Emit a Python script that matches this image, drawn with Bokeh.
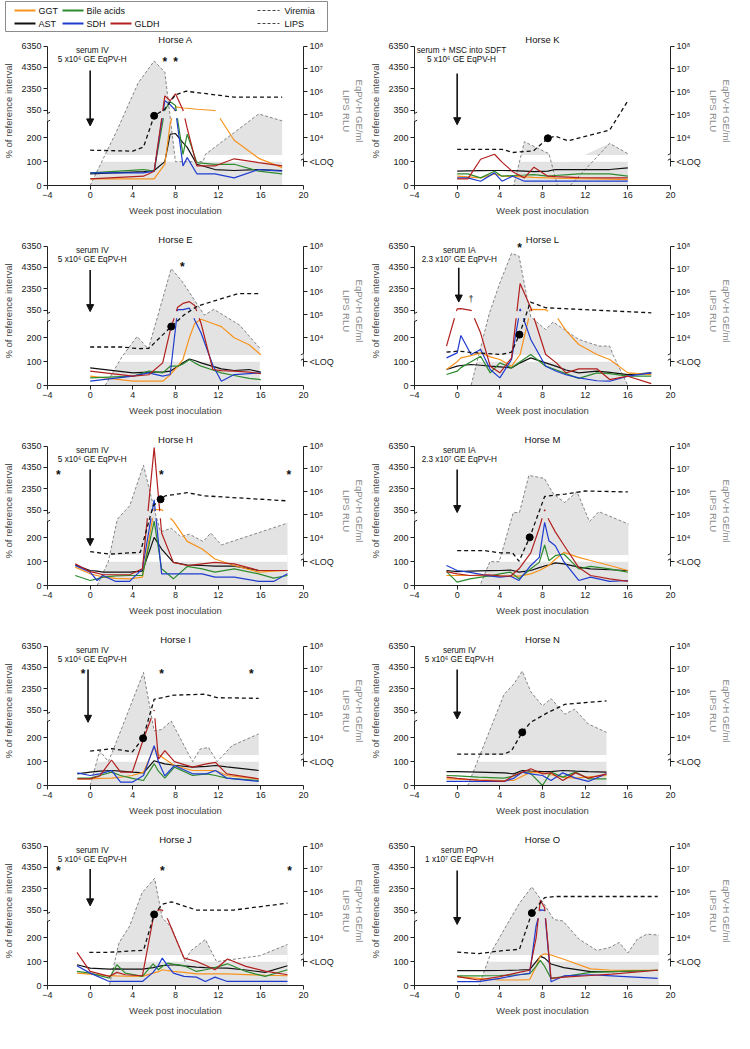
from math import nan
from bokeh.plotting import figure
from bokeh.models import FixedTicker, LinearAxis, Range1d, Arrow, NormalHead
from bokeh.layouts import column, row
from bokeh.embed import file_html
from bokeh.resources import INLINE
from bokeh.core.properties import value

FONT = "Liberation Sans"
C_GGT, C_BILE, C_AST, C_SDH, C_GLDH = "#f7931e", "#2e8b2e", "#111111", "#1f3ccf", "#b1201f"

# ---------------- data (enzymes: % of reference interval; viremia: log10 GE/ml; LIPS: log10 RLU) ----
A_WK = [0, 5, 6, 7, 7.5, 8, 8.7, 9.1, 10, 11.7, 13.5, 15.8, 18]
A_GGT = [28, 28, 28, 90, 260, 683, 572, 550, 460, 340, 190, 114, 75]
A_BILE = [53, 67, 60, 400, 1150, 800, 130, 215, 96, 89, 89, 60, 49]
A_AST = [49, 58, 63, 100, 215, 218, 180, 160, 89, 67, 63, 67, 63]
A_SDH = [53, 53, 60, 1260, 880, 360, 82, 117, 49, 49, 32, 67, 60]
A_GLDH = [28, 39, 60, 1700, 1250, 1900, 380, 240, 82, 82, 112, 96, 82]
A_VWK = [0, 2.5, 4.5, 6, 7, 8, 10.6, 10.8, 15.8, 18]
A_VIR = ["nd", 4.31, 6.39, 7.35, 6.86, "loq", "loq", 3.28, 5.04, 4.74]
A_LWK = [0, 4, 5, 6, 7, 8, 9, 13.5, 18]
A_LIPS = [3.46, 3.42, 3.6, 4.96, 5.25, 5.88, 6.03, 5.77, 5.77]
A_SERO = 3

K_WK = [0, 1, 2.2, 3.5, 4.2, 5.2, 6.3, 7.2, 8.5, 9.2, 10.4, 11.4, 14.3, 16]
K_GGT = [39, 36, 32, 49, 39, 38, 36, 34, 32, 31, 30, 29, 27, 25]
K_BILE = [49, 49, 32, 60, 39, 42, 44, 46, 39, 42, 46, 49, 49, 39]
K_AST = [60, 61, 62, 63, 63, 62, 60, 58, 60, 67, 67, 67, 67, 74]
K_SDH = [32, 32, 18, 53, 18, 39, 18, 18, 18, 18, 18, 18, 18, 18]
K_GLDH = [28, 28, 110, 131, 98, 58, 32, 77, 39, 37, 35, 33, 32, 32]
K_VWK = [0, 5.3, 6.3, 8.6, 9.4, 10.6, 14.3, 16]
K_VIR = ["nd", "nd", 3.83, 3.31, "nd", "nd", 3.76, 3.31]
K_LWK = [0, 4.2, 5.25, 6.3, 7.15, 8.5, 9.2, 10.4, 14.3, 16]
K_LIPS = [3.5, 3.5, 3.36, 3.4, 3.43, 3.98, 4.07, 3.87, 4.34, 5.61]
K_SERO = 5

E_WK = [0, 4, 5.5, 6.8, 7.5, 8.2, 8.7, 9.3, 9.8, 10.4, 11.5, 12.3, 13.5, 14.9, 16]
E_GGT = [39, 18, 18, 18, 45, 80, 110, 200, 260, 278, 260, 247, 200, 171, 129]
E_BILE = [32, 39, 60, 53, 81, 81, 90, 108, 95, 81, 65, 53, 42, 30, 25]
E_AST = [74, 53, 56, 56, 60, 80, 95, 111, 105, 95, 80, 70, 63, 67, 56]
E_SDH = [18, 39, 53, 39, 46, 420, 420, 560, 275, 220, 85, 18, 46, 50, 53]
E_GLDH = [60, 39, 45, 95, 230, 650, 1000, 1170, 800, 260, 67, 62, 60, 56, 50]
E_VWK = [0, 1.4, 3, 4.4, 5.45, 7.6, 8.65, 10.7, 11.6, 14, 15.9]
E_VIR = ["nd", "nd", 3.19, 4.06, 3.51, 7.02, 6.44, 4.99, 5.24, 4.56, 3.55]
E_LWK = [0, 3, 4.45, 5.5, 7.6, 8.8, 10.1, 13.9, 15.9]
E_LIPS = [3.6, 3.6, 3.53, 3.54, 4.49, 5.0, 5.39, 5.93, 5.93]
E_SERO = 4

L_WK = [-1, 0, 0.35, 1.3, 2.2, 3.1, 4, 5.1, 5.9, 6.9, 8.3, 9.3, 10.2, 11.4, 13.1, 14.3, 16, 18.2]
L_GGT = [67, 100, 116, 125, 137, 120, 109, 81, 130, 440, 420, 290, 230, 172, 130, 109, 53, 46]
L_BILE = [46, 60, 75, 100, 123, 53, 95, 74, 100, 130, 81, 65, 50, 30, 53, 50, 39, 39]
L_AST = [67, 81, 84, 88, 85, 81, 78, 74, 95, 116, 95, 80, 65, 53, 60, 55, 46, 53]
L_SDH = [116, 137, 210, 130, 151, 67, 32, 109, 500, 193, 81, 60, 45, 32, 20, 18, 39, 53]
L_GLDH = [165, 500, 510, 360, 220, 81, 53, 116, 2860, 600, 130, 95, 53, 70, 70, 25, 39, 8]
L_VWK = [-1, 0, 1.3, 3, 4, 5.1, 5.8, 6.9, 8.3, 9, 11.4, 13.3, 14.3, 14.6, 16]
L_VIR = ["nd", "nd", "nd", 5.04, 6.39, 7.68, 7.56, 4.91, 4.36, 4.69, 3.93, 3.64, 3.64, 3.27, "nd"]
L_LWK = [-1, 0.15, 1, 4.1, 5.1, 5.84, 6.86, 8.3, 18.2]
L_LIPS = [3.38, 3.42, 3.38, 3.27, 3.38, 4.14, 5.56, 5.31, 5.09]
L_SERO = 5

H_WK = [-1.4, 0, 0.65, 1.2, 2.4, 3.7, 4.9, 6, 6.7, 7.8, 9.1, 10.5, 11.7, 13.5, 15.8, 17.2, 18.5]
H_GGT = [77, 49, 42, 35, 30, 28, 35, 420, 420, 270, 185, 153, 111, 84, 56, 60, 63]
H_BILE = [42, 21, 28, 35, 40, 42, 42, 270, 70, 28, 80, 70, 56, 70, 49, 31, 42]
H_AST = [86, 63, 60, 56, 56, 56, 60, 202, 153, 97, 86, 84, 81, 81, 63, 63, 63]
H_SDH = [84, 56, 21, 42, 17, 17, 70, 1330, 49, 49, 49, 49, 35, 35, 17, 17, 49]
H_GLDH = [91, 58, 52, 45, 45, 45, 70, 6200, 220, 97, 84, 91, 97, 91, 63, 63, 63]
H_VWK = [0.65, 1.7, 2.55, 3.7, 5, 6, 6.6, 7.6, 8.5, 9.3, 10.6, 11.3, 12.3, 18.5]
H_VIR = ["nd", "loq", 4.82, 5.39, 7.16, 5.25, 4.26, 4.42, 4.05, 4.16, 3.84, 4.21, 3.69, 4.64]
H_LWK = [0, 1.8, 4.7, 5.9, 6.6, 7.05, 9.1, 10.7, 18.5]
H_LIPS = [3.4, 3.29, 3.37, 5.39, 5.68, 5.83, 5.97, 5.83, 5.61]
H_SERO = 4

M_WK = [-1, 0, 1.2, 3, 4, 5, 5.8, 6.9, 7.7, 8.2, 8.6, 9.2, 10, 11.4, 12.5, 14.3, 16]
M_GGT = [42, 42, 42, 40, 39, 39, 39, 49, 63, 75, 84, 110, 139, 118, 105, 84, 63]
M_BILE = [58, 14, 28, 40, 49, 56, 28, 70, 97, 170, 104, 125, 132, 70, 80, 70, 56]
M_AST = [63, 58, 60, 62, 63, 65, 56, 63, 75, 82, 86, 95, 91, 77, 70, 66, 63]
M_SDH = [84, 63, 55, 40, 35, 39, 21, 84, 118, 265, 188, 167, 100, 21, 35, 17, 21]
M_GLDH = [58, 49, 42, 45, 40, 39, 70, 137, 241, 420, 275, 225, 170, 75, 42, 28, 17]
M_VWK = [0, 2.13, 3.07, 3.94, 5.26, 5.84, 6.72, 8.17, 9.05, 10.07, 11.24, 12.4, 13.28, 16.06]
M_VIR = ["nd", "nd", "loq", "loq", 5.1, 5.1, 6.72, 6.59, 5.9, 5.54, 6.01, 4.71, 5.14, 4.6]
M_LWK = [0, 2.6, 4.1, 5.2, 5.8, 6.8, 8.2, 9.1, 10.1, 12, 16]
M_LIPS = [3.44, 3.44, 3.34, 3.34, 2.98, 4.02, 5.8, 5.86, 5.9, 6.04, 6.0]
M_SERO = 5

I_WK = [-1.2, 0, 0.9, 2, 2.85, 3.95, 5, 6, 6.4, 7, 7.9, 9.6, 10.9, 11.75, 12.8, 15.8]
I_GGT = [28, 28, 30, 31, 35, 42, 56, 160, 130, 111, 84, 63, 63, 63, 42, 28]
I_BILE = [31, 31, 42, 56, 42, 30, 21, 91, 60, 31, 77, 42, 49, 42, 31, 21]
I_AST = [49, 56, 60, 63, 60, 56, 53, 104, 98, 91, 85, 77, 80, 84, 78, 63]
I_SDH = [53, 42, 49, 63, 14, 14, 42, 167, 100, 40, 84, 49, 49, 63, 31, 17]
I_GLDH = [28, 28, 40, 107, 56, 56, 195, 380, 111, 146, 100, 77, 91, 97, 49, 28]
I_VWK = [0, 0.9, 1.7, 2.2, 5, 6, 6.7, 7.6, 9.6, 10.3, 11.1, 11.9, 13.3, 15.8]
I_VIR = ["nd", 3.44, "loq", 3.52, 6.85, 4.31, 4.36, 4.73, "loq", 3.51, 3.58, "loq", 3.66, 4.17]
I_LWK = [0, 2.07, 3.95, 4.96, 6, 7.86, 10.75, 11.9, 15.8]
I_LIPS = [3.42, 3.53, 3.39, 3.98, 5.68, 5.86, 5.9, 5.75, 5.72]
I_SERO = 3

N_WK = [-1, 0, 2, 4.4, 5.3, 6.1, 6.9, 8, 8.8, 9.9, 11.1, 12.3, 14]
N_GGT = [28, 27, 24, 21, 21, 39, 56, 53, 45, 35, 31, 36, 42]
N_BILE = [42, 40, 35, 31, 40, 56, 50, 0, 56, 35, 56, 28, 28]
N_AST = [58, 58, 56, 53, 49, 63, 60, 58, 58, 63, 60, 58, 56]
N_SDH = [17, 17, 17, 17, 30, 56, 49, 42, 21, 53, 31, 17, 49]
N_GLDH = [35, 30, 22, 17, 42, 55, 70, 49, 53, 21, 53, 31, 49]
N_VWK = [0, 1, 4.4, 5.3, 6.1, 6.9, 8, 8.8, 10.1, 11, 12.3, 14]
N_VIR = ["nd", "nd", 5.9, 6.34, 6.91, 6.01, 5.39, 5.71, 5.03, 5.25, 4.6, 4.24]
N_LWK = [0, 4.4, 5.1, 6.1, 6.9, 8.5, 10.1, 14]
N_LIPS = [3.29, 3.29, 3.44, 4.24, 4.68, 5.1, 5.46, 5.61]
N_SERO = 3

J_WK = [-1.24, 0, 1.8, 2.5, 3.3, 4.9, 5.9, 6.4, 6.76, 7.3, 7.8, 8.8, 9.96, 10.8, 11.7, 12.87, 14.6, 16.4, 18.5]
J_GGT = [52, 48, 41, 40, 39, 38, 52, 58, 66, 62, 59, 55, 49, 49, 49, 49, 46, 43, 41]
J_BILE = [59, 52, 31, 87, 52, 38, 91, 66, 80, 94, 90, 83, 59, 66, 75, 91, 59, 38, 66]
J_AST = [87, 73, 69, 70, 69, 69, 75, 80, 83, 85, 87, 82, 77, 75, 74, 73, 65, 55, 83]
J_SDH = [83, 52, 17, 17, 17, 17, 55, 85, 115, 80, 52, 38, 35, 17, 35, 17, 17, 17, 17]
J_GLDH = [139, 59, 38, 55, 45, 41, 280, 420, 380, 275, 220, 115, 101, 85, 66, 111, 80, 60, 45]
J_VWK = [0, 1.8, 2.7, 3.7, 4.87, 6.04, 6.76, 7.64, 8.9, 9.4, 10.8, 11.85, 15.9, 18.5]
J_VIR = ["nd", "nd", 3.78, 4.51, 5.97, 6.59, 4.87, 4.44, "loq", 3.42, 3.93, "loq", 3.22, 3.71]
J_LWK = [-0.08, 1.8, 5, 6, 6.76, 7.64, 9.96, 13.45, 18.5]
J_LIPS = [3.37, 3.37, 3.46, 5.02, 5.46, 5.57, 5.21, 5.21, 5.51]
J_SERO = 3

O_WK = [0, 2, 4, 5.8, 6.8, 7.4, 7.8, 8.2, 8.8, 10, 12.5, 14.5, 18.8]
O_GGT = [37, 30, 23, 23, 25, 80, 125, 133, 128, 110, 70, 64, 64]
O_BILE = [40, 40, 42, 45, 50, 80, 105, 80, 30, 37, 55, 58, 64]
O_AST = [62, 62, 63, 65, 67, 100, 122, 115, 90, 75, 58, 58, 64]
O_SDH = [16, 16, 30, 45, 51, 250, 400, 360, 16, 40, 45, 40, 30]
O_GLDH = [37, 23, 37, 55, 64, 200, 1300, 600, 30, 35, 42, 48, 64]
O_VWK = [0, 2.04, 3.2, 4.67, 5.84, 7, 8.2, 9.05, 9.93, 11.4, 13.1, 14.3, 15.2, 16, 16.9, 17.8, 18.9]
O_VIR = ["nd", "nd", 3.38, 4.58, 5.51, 6.22, 5.44, 4.8, 4.73, 3.95, 3.45, 3.58, 3.8, 3.34, 3.95, 4.16, 4.12]
O_LWK = [0, 2.04, 3.8, 5.84, 7, 8.2, 9.05, 18.8]
O_LIPS = [3.38, 3.31, 3.42, 3.5, 5.08, 5.75, 5.8, 5.8]
O_SERO = 4

LEFT_TICKS = ["0", "100", "200", "350", "2350", "4350", "6350"]
RIGHT_TICKS = ["<LOQ", "10\u2074", "10\u2075", "10\u2076", "10\u2077", "10\u2078"]
X_TICKS = [-4, 0, 4, 8, 12, 16, 20]

# ---------------- broken-axis transforms -------------------------------------------------------
LEFT_POS = [0, 100, 200, 315, 405, 495, 585]
RIGHT_POS = [100, 200, 296.25, 392.5, 488.75, 585]
GAP_LO, GAP_HI = 282, 312


def pv(val):
    if val is None:
        return None
    return float(val) if val <= 300 else 315 + (val - 350) * 0.045


def rv(d):
    if d == "nd":
        return 0.0
    if d == "loq":
        return 100.0
    return 200 + (d - 4) * 96.25


def fill_levels(vir):
    # undetected samples lying between detected ones keep the <LOQ band filled
    det = [i for i, d in enumerate(vir) if d != "nd"]
    out = []
    for i, d in enumerate(vir):
        v = rv(d)
        if d == "nd" and det and det[0] < i < det[-1]:
            v = 100.0
        out.append(v)
    return out


def gap_line(ts, vals):
    pts = [None if v is None else (t, pv(v)) for t, v in zip(ts, vals)]
    pieces, cur = [], []
    for i in range(len(pts) - 1):
        a, b = pts[i], pts[i + 1]
        if a is None or b is None:
            if len(cur) > 1:
                pieces.append(cur)
            cur = []
            continue
        (x0, y0), (x1, y1) = a, b
        cuts = [0.0, 1.0]
        for lev in (GAP_LO, GAP_HI):
            if (y0 - lev) * (y1 - lev) < 0:
                cuts.append((lev - y0) / (y1 - y0))
        cuts.sort()
        for j in range(len(cuts) - 1):
            ta, tb = cuts[j], cuts[j + 1]
            ym = y0 + (y1 - y0) * (ta + tb) / 2
            if GAP_LO < ym < GAP_HI:
                if len(cur) > 1:
                    pieces.append(cur)
                cur = []
                continue
            pa = (x0 + (x1 - x0) * ta, y0 + (y1 - y0) * ta)
            pb = (x0 + (x1 - x0) * tb, y0 + (y1 - y0) * tb)
            if cur and abs(cur[-1][0] - pa[0]) < 1e-9 and abs(cur[-1][1] - pa[1]) < 1e-9:
                cur.append(pb)
            else:
                if len(cur) > 1:
                    pieces.append(cur)
                cur = [pa, pb]
    if len(cur) > 1:
        pieces.append(cur)
    xs, ys = [], []
    for pc in pieces:
        xs += [p[0] for p in pc] + [nan]
        ys += [p[1] for p in pc] + [nan]
    return xs, ys


def style_axis(ax):
    ax.axis_label_text_font = FONT
    ax.axis_label_text_font_size = "9.5px"
    ax.axis_label_text_font_style = "normal"
    ax.major_label_text_font = FONT
    ax.major_label_text_font_size = "9px"
    ax.major_label_text_color = "#222"
    ax.major_tick_in = 0
    ax.major_tick_out = 4
    ax.minor_tick_line_color = None
    ax.axis_line_color = "#222"
    ax.major_tick_line_color = "#222"
    ax.major_label_standoff = 2
    ax.axis_label_standoff = 4


def seg(p, x0, y0, x1, y1, color, width):
    p.add_layout(Arrow(end=None, x_start=x0, y_start=y0, x_end=x1, y_end=y1,
                       line_color=color, line_width=width))


def txt(p, xs, ys, texts, size="9px", align="center", style="normal", color="#111"):
    p.text(x=xs, y=ys, text=texts, text_font=value(FONT), text_font_size=size,
           text_align=align, text_baseline="middle", text_font_style=style, text_color=color)


def panel(title, wk, ggt, bile, ast, sdh, gldh, vwk, vir, lwk, lips, sero,
          arrow, lines, stars, extra=None, text_x=0.2):
    p = figure(width=367, height=200, x_range=Range1d(-4, 20), y_range=Range1d(0, 625),
               output_backend="svg", toolbar_location=None,
               min_border_left=44, min_border_right=55, min_border_top=4, min_border_bottom=47)
    p.outline_line_color = None
    p.grid.visible = False
    p.background_fill_color = "white"

    xa = p.xaxis[0]
    style_axis(xa)
    xa.ticker = FixedTicker(ticks=X_TICKS)
    xa.axis_label = "Week post inoculation"

    yl = p.yaxis[0]
    style_axis(yl)
    yl.ticker = FixedTicker(ticks=LEFT_POS)
    yl.major_label_overrides = {pos: lab for pos, lab in zip(LEFT_POS, LEFT_TICKS)}
    yl.bounds = (0, 585)
    yl.axis_label = "% of reference interval"

    yr = LinearAxis(ticker=FixedTicker(ticks=RIGHT_POS), bounds=(80, 585))
    style_axis(yr)
    yr.major_label_overrides = {pos: lab for pos, lab in zip(RIGHT_POS, RIGHT_TICKS)}
    yr.axis_label = "EqPV-H GE/ml\nLIPS RLU"
    yr.axis_label_text_color = "#8a8a8a"
    p.add_layout(yr, "right")

    # viremia area
    vv = [rv(d) for d in vir]
    p.varea(x=vwk, y1=[0] * len(vwk), y2=fill_levels(vir), fill_color="#e3e3e3")
    p.quad(left=[min(vwk)], right=[max(vwk)], bottom=[100], top=[128],
           fill_color="white", line_color=None)
    p.line(vwk, vv, line_color="#6a6a6a", line_width=0.8, line_dash="3 2")

    # enzymes
    for vals, col in ((ast, C_AST), (ggt, C_GGT), (bile, C_BILE), (sdh, C_SDH), (gldh, C_GLDH)):
        xs, ys = gap_line(wk, vals)
        p.line(xs, ys, line_color=col, line_width=1.2)

    # LIPS
    lv = [rv(d) for d in lips]
    p.line(lwk, lv, line_color="#111", line_width=1.3, line_dash="4 3")
    p.scatter(x=[lwk[sero]], y=[lv[sero]], size=7, color="#000")

    # axis breaks
    seg(p, -4, 270, -4, 300, "white", 4)
    seg(p, -4.25, 262, -3.75, 274, "#222", 1)
    seg(p, -4.25, 296, -3.75, 308, "#222", 1)
    seg(p, 20, 112, 20, 133, "white", 4)
    seg(p, 19.75, 106, 20.25, 118, "#222", 1)
    seg(p, 19.75, 128, 20.25, 140, "#222", 1)

    # inoculation arrow and text
    ax_, top, tip = arrow
    p.add_layout(Arrow(end=NormalHead(size=7, fill_color="#111", line_color="#111"),
                       x_start=ax_, y_start=top, x_end=ax_, y_end=tip,
                       line_color="#111", line_width=1.6))
    txt(p, [text_x, text_x], [568, 528], lines, size="8.2px")
    if stars:
        txt(p, [s[0] for s in stars], [s[1] for s in stars], ["*"] * len(stars),
            size="12px", style="bold")
    if extra:
        txt(p, [extra[0]], [extra[1]], [extra[2]], size="9px")
    txt(p, [8], [612], [title], size="9.5px")
    return p


IV = ["serum IV", "5 x10\u2076 GE EqPV-H"]
pA = panel("Horse A", A_WK, A_GGT, A_BILE, A_AST, A_SDH, A_GLDH, A_VWK, A_VIR, A_LWK, A_LIPS, A_SERO,
           (0, 482, 250), IV, [(7, 520), (8, 520)])
pK = panel("Horse K", K_WK, K_GGT, K_BILE, K_AST, K_SDH, K_GLDH, K_VWK, K_VIR, K_LWK, K_LIPS, K_SERO,
           (0, 470, 255), ["serum + MSC into SDFT", "5 x10\u2076 GE EqPV-H"], [], text_x=0.4)
pE = panel("Horse E", E_WK, E_GGT, E_BILE, E_AST, E_SDH, E_GLDH, E_VWK, E_VIR, E_LWK, E_LIPS, E_SERO,
           (0, 484, 310), IV, [(8.65, 498)])
pL = panel("Horse L", L_WK, L_GGT, L_BILE, L_AST, L_SDH, L_GLDH, L_VWK, L_VIR, L_LWK, L_LIPS, L_SERO,
           (0.15, 494, 350), ["serum IA", "2.3 x10\u2077 GE EqPV-H"], [(5.84, 578)],
           extra=(1.3, 362, "\u2020"))
pH = panel("Horse H", H_WK, H_GGT, H_BILE, H_AST, H_SDH, H_GLDH, H_VWK, H_VIR, H_LWK, H_LIPS, H_SERO,
           (0, 487, 167), IV, [(-2.98, 462), (6.68, 462), (18.63, 462)])
pM = panel("Horse M", M_WK, M_GGT, M_BILE, M_AST, M_SDH, M_GLDH, M_VWK, M_VIR, M_LWK, M_LIPS, M_SERO,
           (0, 487, 306), ["serum IA", "2.3 x10\u2077 GE EqPV-H"], [])
pI = panel("Horse I", I_WK, I_GGT, I_BILE, I_AST, I_SDH, I_GLDH, I_VWK, I_VIR, I_LWK, I_LIPS, I_SERO,
           (-0.2, 487, 265), IV, [(-0.66, 469), (6.7, 469), (15.1, 469)])
pN = panel("Horse N", N_WK, N_GGT, N_BILE, N_AST, N_SDH, N_GLDH, N_VWK, N_VIR, N_LWK, N_LIPS, N_SERO,
           (0, 487, 279), IV, [])
pJ = panel("Horse J", J_WK, J_GGT, J_BILE, J_AST, J_SDH, J_GLDH, J_VWK, J_VIR, J_LWK, J_LIPS, J_SERO,
           (0, 489, 334), IV, [(-2.98, 481), (6.76, 481), (18.7, 481)])
pO = panel("Horse O", O_WK, O_GGT, O_BILE, O_AST, O_SDH, O_GLDH, O_VWK, O_VIR, O_LWK, O_LIPS, O_SERO,
           (0, 482, 256), ["serum PO", "1 x10\u2077 GE EqPV-H"], [])

# ---------------- legend -------------------------------------------------------------------------
lg = figure(width=345, height=32, x_range=Range1d(0, 345), y_range=Range1d(32, 0),
            output_backend="svg", toolbar_location=None, min_border=0)
lg.axis.visible = False
lg.grid.visible = False
lg.outline_line_color = None
lg.quad(left=[5], right=[327], top=[1], bottom=[31], fill_color=None, line_color="#8c8c8c", line_width=1)
for (x0, y, col, lab) in ((14, 10, C_GGT, "GGT"), (62, 10, C_BILE, "Bile acids"),
                          (14, 23, C_AST, "AST"), (62, 23, C_SDH, "SDH"), (110, 23, C_GLDH, "GLDH")):
    lg.line([x0, x0 + 21], [y, y], line_color=col, line_width=2)
    txt(lg, [x0 + 24], [y], [lab], size="9px", align="left")
for (y, lab) in ((10, "Viremia"), (23, "LIPS")):
    lg.line([257, 279], [y, y], line_color="#444", line_width=1, line_dash="3 2")
    txt(lg, [284], [y], [lab], size="9px", align="left")

layout = column(lg, row(pA, pK), row(pE, pL), row(pH, pM), row(pI, pN), row(pJ, pO))
open("out.html", "w").write(file_html(layout, INLINE))
